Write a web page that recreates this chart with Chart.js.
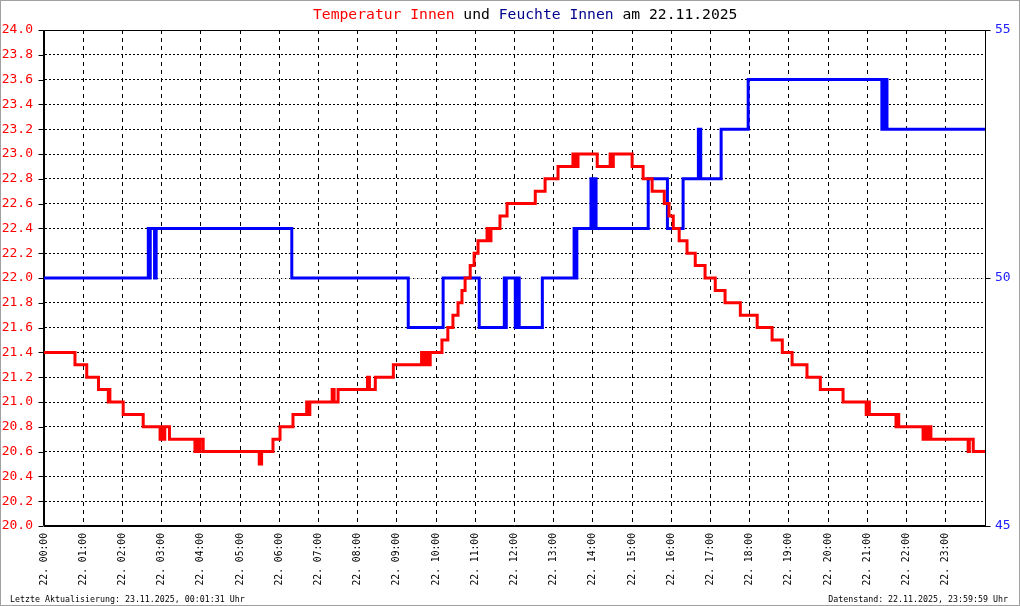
<!DOCTYPE html>
<html>
<head>
<meta charset="utf-8">
<script src="https://cdn.jsdelivr.net/npm/chart.js@4"></script>
<style>
  html, body { margin: 0; padding: 0; background: #fff; }
  canvas { display: block; }
</style>
</head>
<body>
<canvas id="chart" width="1020" height="606" style="width:1020px;height:606px"></canvas>
<script>
// x tick labels (hours of 22.11.2025)
const hourLabels = ['22. 00:00', '22. 01:00', '22. 02:00', '22. 03:00', '22. 04:00', '22. 05:00',
  '22. 06:00', '22. 07:00', '22. 08:00', '22. 09:00', '22. 10:00', '22. 11:00',
  '22. 12:00', '22. 13:00', '22. 14:00', '22. 15:00', '22. 16:00', '22. 17:00',
  '22. 18:00', '22. 19:00', '22. 20:00', '22. 21:00', '22. 22:00', '22. 23:00'];

// Temperatur Innen: time of change (hours) and the new value (°C)
const tempTimes = [0, 0.79, 1.09, 1.39, 1.64, 1.66, 1.68, 2.02, 2.53, 2.96, 2.99, 3.05, 3.08, 3.2,
  3.85, 3.88, 3.95, 3.98, 4.06, 5.49, 5.55, 5.84, 6.02, 6.35, 6.7, 6.73, 6.78, 7.35, 7.4, 7.5,
  8.25, 8.3, 8.45, 8.91, 9.63, 9.68, 9.75, 9.8, 9.85, 10.15, 10.3, 10.43, 10.56, 10.66, 10.74,
  10.87, 10.97, 11.07, 11.3, 11.34, 11.4, 11.63, 11.81, 12.53, 12.78, 13.11, 13.49, 13.52, 13.56,
  13.6, 13.62, 14.11, 14.44, 14.48, 14.52, 15.0, 15.28, 15.51, 15.82, 15.94, 16.05, 16.2, 16.4,
  16.61, 16.86, 17.12, 17.37, 17.76, 18.19, 18.57, 18.83, 19.08, 19.46, 19.8, 20.38, 20.97, 21.0,
  21.05, 21.73, 21.76, 21.8, 22.42, 22.45, 22.52, 22.58, 22.62, 23.57, 23.6, 23.7, 24];
const tempValues = [21.4, 21.3, 21.2, 21.1, 21.0, 21.1, 21.0, 20.9, 20.8, 20.7, 20.8, 20.7, 20.8, 20.7,
  20.6, 20.7, 20.6, 20.7, 20.6, 20.5, 20.6, 20.7, 20.8, 20.9, 21.0, 20.9, 21.0, 21.1, 21.0, 21.1,
  21.2, 21.1, 21.2, 21.3, 21.4, 21.3, 21.4, 21.3, 21.4, 21.5, 21.6, 21.7, 21.8, 21.9, 22.0,
  22.1, 22.2, 22.3, 22.4, 22.3, 22.4, 22.5, 22.6, 22.7, 22.8, 22.9, 23.0, 22.9, 23.0,
  22.9, 23.0, 22.9, 23.0, 22.9, 23.0, 22.9, 22.8, 22.7, 22.6, 22.5, 22.4, 22.3, 22.2,
  22.1, 22.0, 21.9, 21.8, 21.7, 21.6, 21.5, 21.4, 21.3, 21.2, 21.1, 21.0, 20.9, 21.0,
  20.9, 20.8, 20.9, 20.8, 20.7, 20.8, 20.7, 20.8, 20.7, 20.6, 20.7, 20.6, 20.6];

// Feuchte Innen: time of change (hours) and the new value (%)
const humTimes = [0, 2.66, 2.69, 2.71, 2.82, 2.86, 6.32, 9.29, 10.18, 11.1, 11.74, 11.76, 11.79,
  12.02, 12.05, 12.12, 12.71, 13.52, 13.55, 13.59, 13.95, 13.99, 14.03, 14.08, 15.41, 15.9, 16.3,
  16.69, 16.75, 17.27, 17.96, 21.37, 21.41, 21.44, 21.47, 21.5, 24];
const humValues = [50, 51, 50, 51, 50, 51, 50, 49, 50, 49, 50, 49, 50,
  49, 50, 49, 50, 51, 50, 51, 52, 51, 52, 51, 52, 51, 52,
  53, 52, 53, 54, 53, 54, 53, 54, 53, 53];

const MONO = '"DejaVu Sans Mono", "Liberation Mono", monospace';

const decor = {
  id: 'decor',
  beforeDraw(chart) {
    const ctx = chart.ctx;
    ctx.save();
    ctx.fillStyle = '#fff';
    ctx.fillRect(0, 0, chart.width, chart.height);
    ctx.restore();
  },
  beforeDatasetsDraw(chart) {
    const { ctx, chartArea: a, scales } = chart;
    const L = Math.round(a.left) - 0.5, R = Math.round(a.right) + 0.5;
    const T = Math.round(a.top) + 0.5, B = Math.round(a.bottom) - 0.5;
    ctx.save();
    ctx.strokeStyle = '#000';
    ctx.lineWidth = 1;
    ctx.setLineDash([]);
    ctx.beginPath();
    ctx.rect(L, T, R - L, B - T);
    // outward tick marks on both value axes
    scales.y.ticks.forEach(t => {
      const y = Math.round(scales.y.getPixelForValue(t.value)) + 0.5;
      ctx.moveTo(L - 5, y); ctx.lineTo(L, y);
    });
    scales.y2.ticks.forEach(t => {
      const y = Math.round(scales.y2.getPixelForValue(t.value)) + 0.5;
      ctx.moveTo(R, y); ctx.lineTo(R + 5, y);
    });
    ctx.stroke();
    ctx.restore();
  },
  afterDraw(chart) {
    const ctx = chart.ctx;
    ctx.save();
    // title in coloured parts
    const parts = [['Temperatur Innen', '#ff0000'], [' und ', '#000000'],
      ['Feuchte Innen', '#00008c'], [' am 22.11.2025', '#000000']];
    ctx.font = '14.7px ' + MONO;
    ctx.textBaseline = 'alphabetic';
    ctx.textAlign = 'left';
    let x = 313;
    parts.forEach(([txt, col]) => {
      ctx.fillStyle = col;
      ctx.fillText(txt, x, 18.5);
      x += ctx.measureText(txt).width;
    });
    // footer
    ctx.font = '8.3px ' + MONO;
    ctx.fillStyle = '#000';
    ctx.fillText('Letzte Aktualisierung: 23.11.2025, 00:01:31 Uhr', 10, 602);
    ctx.textAlign = 'right';
    ctx.fillText('Datenstand: 22.11.2025, 23:59:59 Uhr', 1008, 602);
    // outer frame
    ctx.strokeStyle = '#a0a0a0';
    ctx.lineWidth = 1;
    ctx.strokeRect(0.5, 0.5, chart.width - 1, chart.height - 1);
    ctx.restore();
  }
};

new Chart(document.getElementById('chart'), {
  type: 'line',
  data: {
    datasets: [
      {
        label: 'Temperatur Innen',
        data: tempTimes.map((t, i) => ({ x: t, y: tempValues[i] })),
        yAxisID: 'y',
        borderColor: '#ff0000',
        borderWidth: 3,
        stepped: 'before',
        pointRadius: 0,
        fill: false,
        borderJoinStyle: 'miter',
        borderCapStyle: 'butt'
      },
      {
        label: 'Feuchte Innen',
        data: humTimes.map((t, i) => ({ x: t, y: humValues[i] })),
        yAxisID: 'y2',
        borderColor: '#0000ff',
        borderWidth: 3,
        stepped: 'before',
        pointRadius: 0,
        fill: false,
        borderJoinStyle: 'miter',
        borderCapStyle: 'butt'
      }
    ]
  },
  options: {
    responsive: false,
    animation: false,
    devicePixelRatio: 1,
    layout: { padding: { top: 30, left: 0, right: 0, bottom: 0 } },
    plugins: {
      legend: { display: false },
      title: { display: false },
      tooltip: { enabled: false }
    },
    scales: {
      x: {
        type: 'linear',
        position: 'bottom',
        min: 0,
        max: 24,
        afterFit: s => { s.height = 80; },
        ticks: {
          stepSize: 1,
          autoSkip: false,
          minRotation: 90,
          maxRotation: 90,
          padding: 7,
          color: '#000',
          font: { family: MONO, size: 9.7 },
          callback: v => hourLabels[v] || ''
        },
        grid: { color: '#000', lineWidth: 1, drawTicks: false },
        border: { display: true, color: '#000', width: 1, dash: [4, 4] }
      },
      y: {
        position: 'left',
        min: 20,
        max: 24,
        afterFit: s => { s.width = 44; },
        ticks: {
          stepSize: 0.2,
          autoSkip: false,
          padding: 11,
          color: '#ff0000',
          font: { family: MONO, size: 13 },
          callback: v => v.toFixed(1)
        },
        grid: { color: '#000', lineWidth: 1, drawTicks: false },
        border: { display: true, color: '#000', width: 1, dash: [2, 2] }
      },
      y2: {
        position: 'right',
        min: 45,
        max: 55,
        afterFit: s => { s.width = 35; },
        ticks: {
          stepSize: 5,
          padding: 10,
          color: '#2020ff',
          font: { family: MONO, size: 13 }
        },
        grid: { color: '#c8c8c8', lineWidth: 1, drawTicks: false },
        border: { display: true, color: '#000', width: 1, dash: [2, 2], dashOffset: 2 }
      }
    }
  },
  plugins: [decor]
});
</script>
</body>
</html>
